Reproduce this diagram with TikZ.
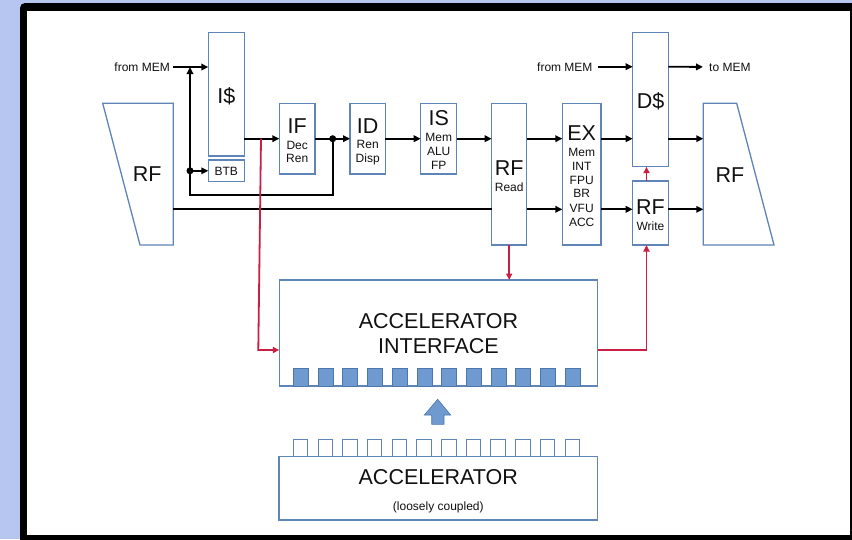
\documentclass[tikz,border=0pt]{standalone}
\usepackage{fontspec}
\setmainfont{Liberation Sans}
\usetikzlibrary{arrows.meta}

\definecolor{slidebg}{HTML}{B6C6F0}
\definecolor{unitline}{HTML}{5F84B8}
\definecolor{portfill}{HTML}{6E9AD0}
\definecolor{portline}{HTML}{4D76AC}
\definecolor{ctrlred}{HTML}{C91F45}
\definecolor{ink}{HTML}{111111}

\tikzset{
  unit/.style={draw=unitline, line width=1.3pt, fill=white, inner sep=0pt, outer sep=0pt},
  bigtxt/.style={font=\fontsize{21.5}{22}\selectfont, text=ink, inner sep=0pt, anchor=base},
  smalltxt/.style={font=\fontsize{12}{13}\selectfont, text=ink, inner sep=0pt, anchor=base},
  wire/.style={draw=black, line width=1.8pt, -{Triangle[length=7pt,width=6.5pt]}},
  plain/.style={draw=black, line width=1.8pt},
  ctrl/.style={draw=ctrlred, line width=1.8pt, -{Triangle[length=6.5pt,width=6pt]}},
  joint/.style={circle, fill=black, inner sep=0pt, minimum size=7pt},
}

\begin{document}
\begin{tikzpicture}[x=1pt,y=-1pt]
\useasboundingbox (0,0) rectangle (852,539);

% slide background and frame
\begin{scope}
  \clip (0,0) rectangle (852,539);
  \fill[slidebg] (0,0) rectangle (852,539);
  \fill[black, rounded corners=5pt] (20,3) rectangle (870,560);
  \fill[white] (27,11) rectangle (850,535);
\end{scope}

% register files (trapezoids)
\draw[unitline, line width=1.3pt, fill=white] (102.7,103.3) -- (173.3,103.3) -- (173.3,245) -- (140,245) -- cycle;
\draw[unitline, line width=1.3pt, fill=white] (703.3,103.3) -- (736.7,103.3) -- (774,245) -- (703.3,245) -- cycle;
\node[bigtxt] (rfLtxt) at (147.3,181.7) {RF};
\node[bigtxt] (rfRtxt) at (730,182.3) {RF};
\coordinate (rfLout) at (173.3,209.3);
\coordinate (rfRinA) at (703.3,138.7);
\coordinate (rfRinB) at (703.3,209.3);

% pipeline units
\node[unit, minimum width=36pt,   minimum height=123.3pt] (icache)  at (226.3,94.3)  {};
\node[unit, minimum width=36pt,   minimum height=21.7pt]  (btb)     at (226.3,170.8) {};
\node[unit, minimum width=35.7pt, minimum height=70.7pt]  (ifs)     at (297.2,138.7) {};
\node[unit, minimum width=35.3pt, minimum height=70.7pt]  (ids)     at (367.7,138.7) {};
\node[unit, minimum width=36pt,   minimum height=70.7pt]  (iss)     at (438.7,138.7) {};
\node[unit, minimum width=35pt,   minimum height=141.7pt] (rfread)  at (509.2,174.2) {};
\node[unit, minimum width=38.7pt, minimum height=141.7pt] (ex)      at (581.7,174.2) {};
\node[unit, minimum width=35.6pt, minimum height=134pt]   (dcache)  at (650.5,99.7)  {};
\node[unit, minimum width=35.6pt, minimum height=64pt]    (rfwrite) at (650.5,213)   {};

% unit labels
\node[bigtxt] (icl) at (226.3,103.5) {I\$};
\node[smalltxt] (btbl) at (226.3,175) {BTB};
\node[bigtxt] (ifl) at (297.2,133) {IF};
\node[smalltxt] at (297.2,149.3) {Dec};
\node[smalltxt] at (297.2,162) {Ren};
\node[bigtxt] (idl) at (367.7,133.3) {ID};
\node[smalltxt] at (367.7,148.3) {Ren};
\node[smalltxt] at (367.7,162.3) {Disp};
\node[bigtxt] (isl) at (438.7,125.7) {IS};
\node[smalltxt] at (438.7,141.6) {Mem};
\node[smalltxt] at (438.7,155.3) {ALU};
\node[smalltxt] at (438.7,169.3) {FP};
\node[bigtxt] (rfrl) at (509.2,175) {RF};
\node[smalltxt] at (509.2,191) {Read};
\node[bigtxt] (exl) at (581.7,140) {EX};
\node[smalltxt] at (581.7,156) {Mem};
\node[smalltxt] at (581.7,170.3) {INT};
\node[smalltxt] at (581.7,184.3) {FPU};
\node[smalltxt] at (581.7,197.6) {BR};
\node[smalltxt] at (581.7,212) {VFU};
\node[smalltxt] at (581.7,226) {ACC};
\node[bigtxt] (dcl) at (650.5,108.3) {D\$};
\node[bigtxt] (rfwl) at (650.5,214.3) {RF};
\node[smalltxt] at (650.5,230) {Write};

% memory ports
\node[smalltxt, anchor=base east] (memA) at (170,71.3) {from MEM};
\node[smalltxt, anchor=base east] (memB) at (592.7,71) {from MEM};
\node[smalltxt, anchor=base west] (memC) at (709,71) {to MEM};
\draw[wire] ([xshift=3pt]memA.east) -- (memA.east -| icache.west);
\draw[wire] ([xshift=5pt]memB.east) -- (memB.east -| dcache.west);
\draw[wire] (memB.east -| dcache.east) -- ([xshift=-6pt]memC.west);

% fetch loop
\coordinate (split) at (190,170.8);
\coordinate (join) at (332.7,138.7);
\coordinate (loopc) at (190,195);
\draw[wire] (join) |- (loopc) -- (loopc |- memA.east);
\draw[wire] (split) -- (btb.west);
\node[joint] (splitdot) at (split) {};

% main datapath
\draw[wire] (icache.east |- ifs.west) -- (ifs.west);
\draw[plain] (ifs.east) -- (join);
\node[joint] (joindot) at (join) {};
\draw[wire] (join) -- (ids.west);
\draw[wire] (ids.east) -- (iss.west);
\draw[wire] (iss.east) -- (iss.east -| rfread.west);
\draw[wire] (rfread.east |- ifs) -- (ex.west |- ifs);
\draw[wire] (ex.east |- ifs) -- (dcache.west |- ifs);
\draw[wire] (dcache.east |- ifs) -- (rfRinA);
\draw[plain] (rfLout) -- (rfLout -| rfread.west);
\draw[wire] (rfread.east |- rfLout) -- (ex.west |- rfLout);
\draw[wire] (ex.east |- rfLout) -- (rfwrite.west |- rfLout);
\draw[wire] (rfwrite.east |- rfLout) -- (rfRinB);

% accelerator interface
\node[unit, minimum width=318.4pt, minimum height=106pt] (aif) at (438.5,333) {};
\node[bigtxt] (aifA) at (438.5,328.3) {ACCELERATOR};
\node[bigtxt] (aifB) at (438.5,353.3) {INTERFACE};
\foreach \i in {0,...,11}
  \draw[portline, fill=portfill, line width=0.6pt] ({293.3+24.7*\i},368.3) rectangle ++(15,17.7);

% loosely coupled accelerator
\filldraw[fill=portfill, draw=portline, line width=0.6pt]
  (437.7,399.3) -- (450.7,415) -- (444,415) -- (444,424.3) -- (431.7,424.3) -- (431.7,415) -- (424.3,415) -- cycle;
\foreach \i in {0,...,11}
  \draw[unitline, line width=0.9pt] ({293.3+24.7*\i},439.3) rectangle ++(14.5,17.4);
\node[unit, minimum width=318.7pt, minimum height=63.3pt] (acc) at (438.3,488.3) {};
\node[bigtxt] (accA) at (438.3,484.3) {ACCELERATOR};
\node[smalltxt] (accB) at (438.3,510.3) {(loosely coupled)};

% control links to and from the interface
\coordinate (tap) at (261,138.7);
\coordinate (bend) at (258.3,350);
\draw[ctrl] (tap) -- (bend) -- (bend -| aif.west);
\draw[ctrl] (rfread.south) -- (rfread.south |- aif.north);
\draw[ctrl] (bend -| aif.east) -| ([xshift=-4pt]rfwrite.south);
\draw[ctrl] ([xshift=-4pt]rfwrite.north) -- ([xshift=-4pt]dcache.south);
\end{tikzpicture}
\end{document}
